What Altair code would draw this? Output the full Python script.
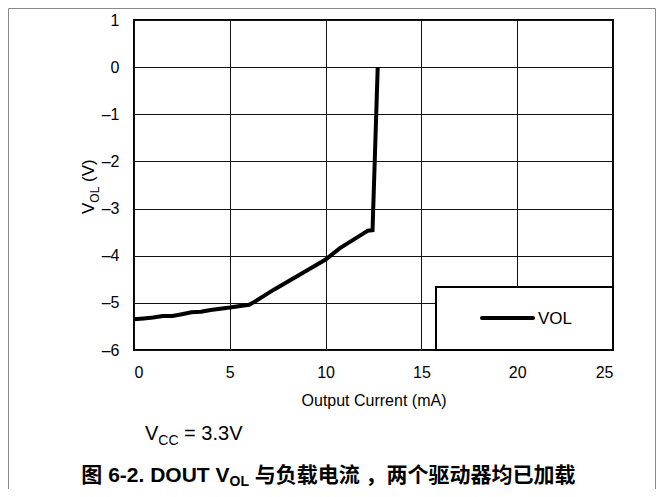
import altair as alt
import pandas as pd

# ---- data ----
current_ma = [0.0, 0.5, 1.0, 1.5, 2.0, 2.5, 3.0, 3.5, 4.0, 5.0, 6.0, 6.2,
              7.3, 9.0, 10.0, 10.75, 12.0, 12.2, 12.45, 12.72]
vol_v = [-5.35, -5.33, -5.31, -5.28, -5.28, -5.24, -5.20, -5.19, -5.15, -5.10,
         -5.04, -5.00, -4.72, -4.32, -4.08, -3.84, -3.52, -3.47, -3.46, 0.0]
x_ticks = [0, 5, 10, 15, 20, 25]
y_ticks = [-6, -5, -4, -3, -2, -1, 0, 1]
series_name = ["VOL"]

FONT = "Liberation Sans, Arial, Noto Sans CJK SC"
W, H = 479, 330

df = pd.DataFrame({"current": current_ma, "vol": vol_v, "series": series_name[0]})

line = alt.Chart(df).mark_line(color="black", strokeWidth=4, clip=True).encode(
    x=alt.X("current:Q",
            scale=alt.Scale(domain=[0, 25], nice=False),
            axis=alt.Axis(values=x_ticks, title="Output Current (mA)",
                          labelPadding=14, titlePadding=12, format="d")),
    y=alt.Y("vol:Q",
            scale=alt.Scale(domain=[-6, 1], nice=False),
            axis=alt.Axis(values=y_ticks, title="", labelPadding=15,
                          labelExpr="datum.value < 0 ? '\u2013' + abs(datum.value) : datum.label")),
)


def one(text=""):
    return pd.DataFrame({"t": [text]})


def txt(text, x, y, size, bold=False, align="left", angle=0):
    return alt.Chart(one(text)).mark_text(
        align=align, baseline="alphabetic", fontSize=size, font=FONT,
        fontWeight="bold" if bold else "normal", angle=angle, color="black"
    ).encode(text="t:N", x=alt.value(x), y=alt.value(y))


# legend (box, sample line, label)
leg_box = alt.Chart(one()).mark_rect(fill="white", stroke="black", strokeWidth=2).encode(
    x=alt.value(302), x2=alt.value(W), y=alt.value(267), y2=alt.value(H))
leg_line = alt.Chart(one()).mark_rule(color="black", strokeWidth=4, strokeCap="round").encode(
    x=alt.value(348), x2=alt.value(399), y=alt.value(298))
leg_text = alt.Chart(pd.DataFrame({"t": series_name})).mark_text(
    align="left", baseline="middle", fontSize=17, font=FONT, color="black"
).encode(text="t:N", x=alt.value(404), y=alt.value(299))

# y axis title with subscript (rotated)
yt1 = txt("V", -40, 194, 17, angle=270)
yt2 = txt("OL", -35, 182.7, 12, angle=270)
yt3 = txt("(V)", -40, 162, 17, angle=270)

# VCC annotation
vc1 = txt("V", 11, 420, 20)
vc2 = txt("CC", 24.3, 425, 14)
vc3 = txt("= 3.3V", 50.1, 420, 20)

# caption
cap1 = txt("图 6-2. DOUT V", 95.5, 462, 21, bold=True, align="right")
cap2 = txt("OL", 95.5, 465.5, 14, bold=True)
cap3 = txt("与负载电流 ，两个驱动器均已加载", 120.7, 462, 21, bold=True)

# outer light frame (left, top, right)
fr_l = alt.Chart(one()).mark_rule(color="#8a8a8a", strokeWidth=1).encode(
    x=alt.value(-125.5), y=alt.value(-11.5), y2=alt.value(469))
fr_t = alt.Chart(one()).mark_rule(color="#8a8a8a", strokeWidth=1).encode(
    x=alt.value(-125.5), x2=alt.value(521.5), y=alt.value(-11.5))
fr_r = alt.Chart(one()).mark_rule(color="#8a8a8a", strokeWidth=1).encode(
    x=alt.value(521.5), y=alt.value(-11.5), y2=alt.value(469))

chart = alt.layer(
    line, leg_box, leg_line, leg_text,
    yt1, yt2, yt3, vc1, vc2, vc3, cap1, cap2, cap3,
    fr_l, fr_t, fr_r,
).properties(
    width=W, height=H,
    autosize=alt.AutoSizeParams(type="none"),
    padding={"left": 126, "top": 12, "right": 43, "bottom": 139},
    background="white",
).configure_view(
    stroke="black", strokeWidth=2
).configure_axis(
    grid=True, gridColor="#111111", gridWidth=1, domain=False, ticks=False, tickSize=0,
    labelFont=FONT, labelFontSize=16, labelColor="black",
    titleFont=FONT, titleFontSize=16, titleFontWeight="normal", titleColor="black",
)

chart.save("out.html", embed_options={"renderer": "svg", "actions": False})
